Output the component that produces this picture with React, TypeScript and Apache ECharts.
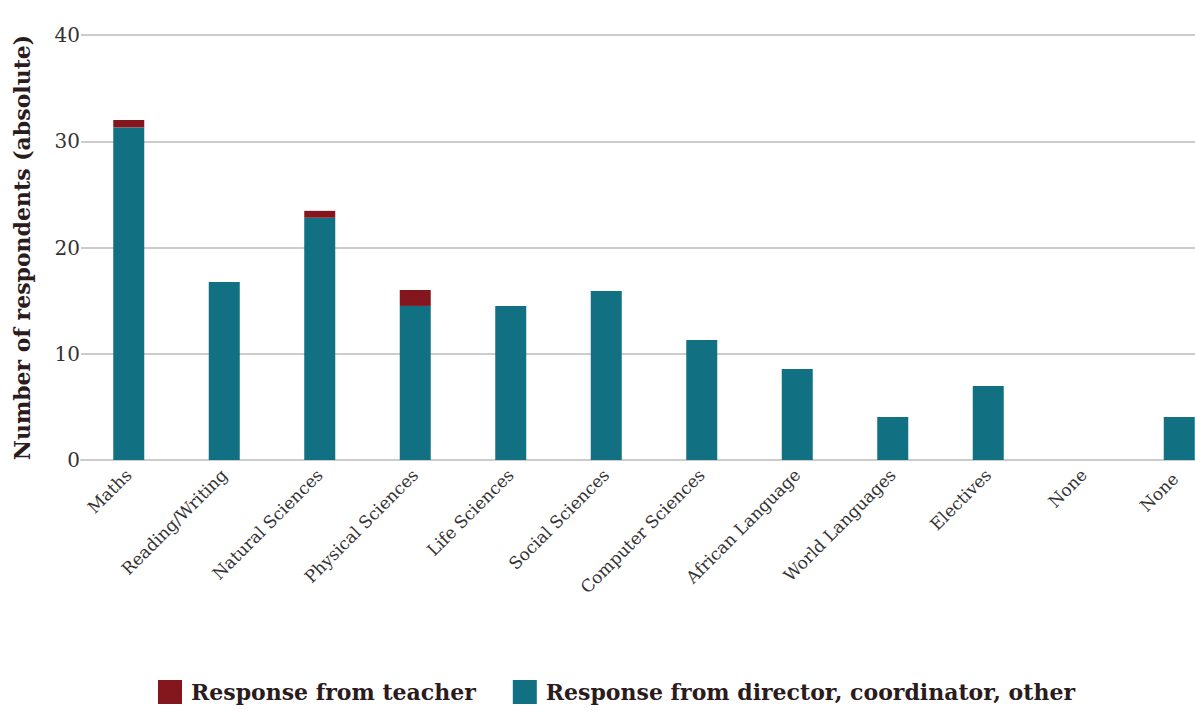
import React, { useEffect, useRef } from "react";
import * as echarts from "echarts";

const categories = [
  "Maths",
  "Reading/Writing",
  "Natural Sciences",
  "Physical Sciences",
  "Life Sciences",
  "Social Sciences",
  "Computer Sciences",
  "African Language",
  "World Languages",
  "Electives",
  "None",
  "None ",
];
const directorValues = [31.3, 16.75, 22.8, 14.5, 14.5, 15.9, 11.3, 8.56, 4.05, 6.96, 0, 4.05];
const teacherValues = [0.7, 0, 0.65, 1.5, 0, 0, 0, 0, 0, 0, 0, 0];
const yTicks = { min: 0, max: 40, interval: 10 };
const seriesNames = ["Response from teacher", "Response from director, coordinator, other"];

const FONT = "'DejaVu Serif', serif";
const TEAL = "#127083";
const RED = "#84171E";

export default function App() {
  const ref = useRef<HTMLDivElement>(null);
  useEffect(() => {
    if (!ref.current) return;
    const chart = echarts.init(ref.current, null, { renderer: "svg" });
    chart.setOption({
      animation: false,
      textStyle: { fontFamily: FONT },
      grid: { left: 81, right: 0, top: 35, bottom: 251, containLabel: false, outerBoundsMode: "none" },
      legend: {
        data: seriesNames,
        left: 153,
        bottom: 2,
        itemWidth: 24,
        itemHeight: 24,
        itemGap: 37,
        icon: "rect",
        textStyle: { fontFamily: FONT, fontWeight: "bold", fontSize: 22, color: "#2b1b1d", padding: [0, 0, 0, 4] },
      },
      xAxis: {
        type: "category",
        data: categories,
        axisLine: { show: true, lineStyle: { color: "#cccccc", width: 2 } },
        axisTick: { show: false },
        axisLabel: {
          rotate: 45,
          interval: 0,
          fontFamily: FONT,
          fontSize: 17,
          color: "#333333",
          margin: 12,
        },
      },
      yAxis: {
        type: "value",
        min: yTicks.min,
        max: yTicks.max,
        interval: yTicks.interval,
        name: "Number of respondents (absolute)",
        nameLocation: "middle",
        nameGap: 48,
        nameTextStyle: { fontFamily: FONT, fontWeight: "bold", fontSize: 22, color: "#2b1b1d" },
        axisLine: { show: false },
        axisTick: { show: false },
        splitLine: { lineStyle: { color: "#cccccc", width: 2 } },
        axisLabel: { fontFamily: FONT, fontSize: 20, color: "#333333", margin: 1 },
      },
      series: [
        {
          name: seriesNames[1],
          type: "bar",
          stack: "total",
          barWidth: 31,
          data: directorValues,
          itemStyle: { color: TEAL },
        },
        {
          name: seriesNames[0],
          type: "bar",
          stack: "total",
          barWidth: 31,
          data: teacherValues,
          itemStyle: { color: RED },
        },
      ],
    });
    return () => chart.dispose();
  }, []);
  return (
    <div style={{ width: 1195, height: 711, position: "absolute", left: 0, top: 0, overflow: "hidden" }}>
      <div ref={ref} style={{ width: 1227, height: 711 }} />
    </div>
  );
}
